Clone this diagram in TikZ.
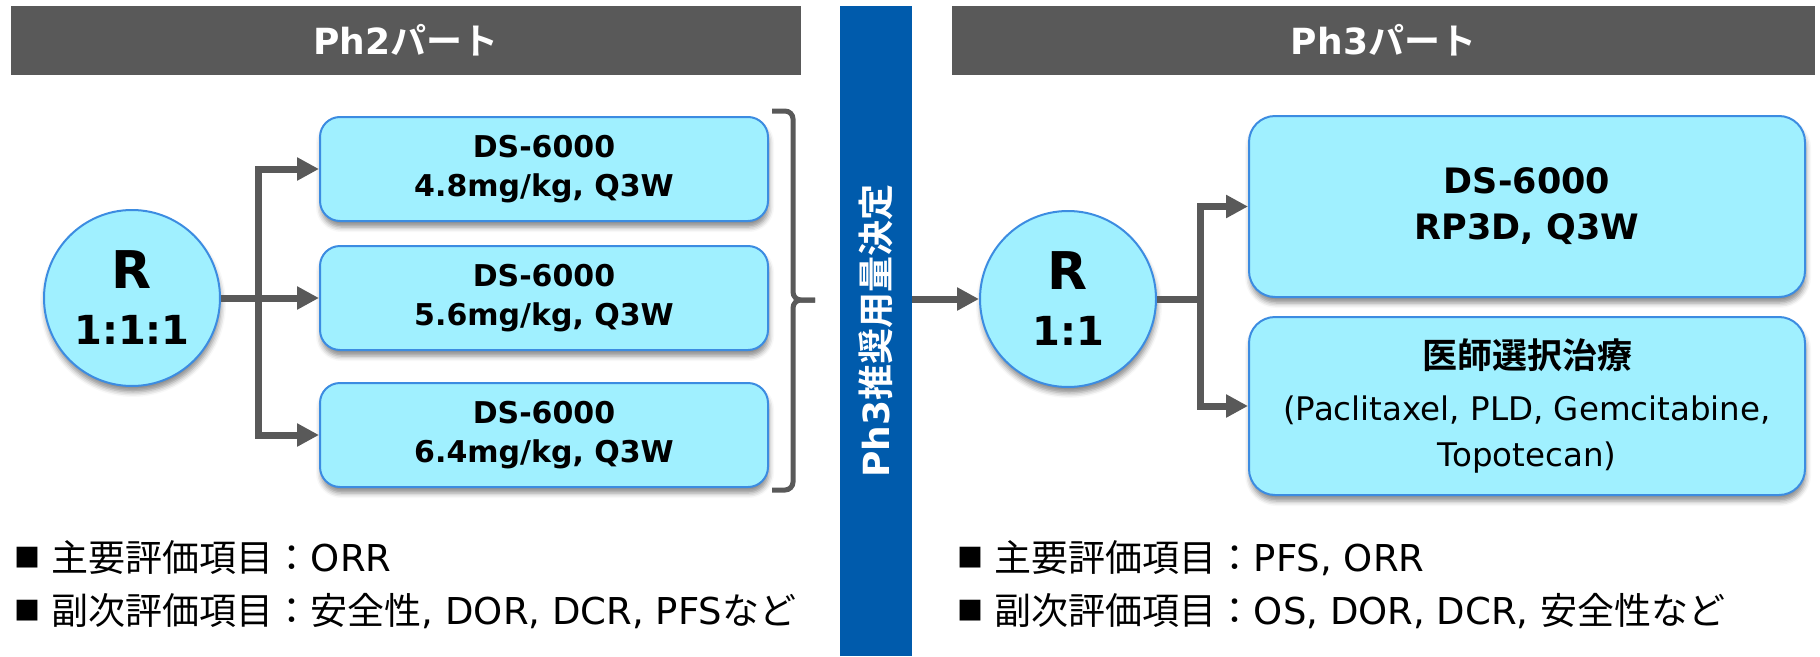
\documentclass[tikz,border=0pt]{standalone}
\usepackage{fontspec}
\setmainfont{DejaVu Sans}
\newfontfamily\jp{Noto Sans CJK JP}[BoldFont={Noto Sans CJK JP Bold}]
\usetikzlibrary{arrows.meta,shadows.blur}
\definecolor{headgray}{RGB}{89,89,89}
\definecolor{barblue}{RGB}{0,91,172}
\definecolor{boxfill}{RGB}{160,240,255}
\definecolor{boxline}{RGB}{60,140,225}
\definecolor{linkgray}{RGB}{89,89,89}
\newcommand{\sq}{\raisebox{4pt}{\fontsize{26}{30}\selectfont\jp ■}\ }

\begin{document}
\begin{tikzpicture}[x=1pt,y=-1pt,
    header/.style={fill=headgray, text=white, font=\bfseries\fontsize{36}{40}\selectfont, minimum height=69pt, inner sep=0pt},
    soft/.style={blur shadow={shadow xshift=1pt, shadow yshift=-6pt, shadow blur radius=5pt, shadow opacity=45}},
    arm/.style={draw=boxline, line width=2pt, fill=boxfill, rounded corners=20pt, align=center, inner sep=0pt, soft},
    rnd/.style={circle, draw=boxline, line width=2pt, fill=boxfill, minimum size=176pt, inner sep=0pt, align=center, font=\bfseries\fontsize{40}{56}\selectfont, soft},
    link/.style={draw=linkgray, line width=7pt},
    arrow/.style={link, -{Triangle[length=22pt,width=22pt]}},
    note/.style={anchor=west, inner sep=0pt, font=\fontsize{37}{40}\selectfont}]

  \useasboundingbox (0,0) rectangle (1820,656);

  % headers and the dose bar
  \node[header, minimum width=790pt] (ph2) at (406,40.5) {Ph2{\jp パート}};
  \node[header, minimum width=863pt] (ph3) at (1383.5,40.5) {Ph3{\jp パート}};
  \node[fill=barblue, text=white, rotate=90, minimum width=650pt, minimum height=72pt, inner sep=0pt, font=\bfseries\fontsize{36}{40}\selectfont] (dose) at (876,331) {Ph3{\jp 推奨用量決定}};

  % Ph2
  \node[rnd] (r1) at (132,298) {{\fontsize{52}{56}\selectfont R}\\1:1:1};
  \node[arm, minimum width=448pt, minimum height=104pt, font=\bfseries\fontsize{30}{39}\selectfont] (b1) at (544,169) {DS-6000\\4.8mg/kg, Q3W};
  \node[arm, minimum width=448pt, minimum height=104pt, font=\bfseries\fontsize{30}{39}\selectfont] (b2) at (544,298) {DS-6000\\5.6mg/kg, Q3W};
  \node[arm, minimum width=448pt, minimum height=104pt, font=\bfseries\fontsize{30}{39}\selectfont] (b3) at (544,435) {DS-6000\\6.4mg/kg, Q3W};
  \coordinate (f1) at (258,298);
  \draw[link] (r1.east) -- (f1);
  \draw[arrow] (f1) |- (b1.west);
  \draw[arrow] (f1) -- (b2.west);
  \draw[arrow] (f1) |- (b3.west);
  \draw[link, line width=5pt, rounded corners=8pt] (772,111) -- (793,111) -- (793,300) -- (815,300);
  \draw[link, line width=5pt, rounded corners=8pt] (772,490) -- (793,490) -- (793,300) -- (815,300);

  % Ph3
  \node[rnd] (r2) at (1068,299) {{\fontsize{52}{56}\selectfont R}\\1:1};
  \draw[arrow] (dose.south |- r2.west) -- (r2.west);
  \node[arm, minimum width=556pt, minimum height=181pt, rounded corners=26pt, font=\bfseries\fontsize{35}{46}\selectfont] (pA) at (1527,206.5) {DS-6000\\RP3D, Q3W};
  \node[arm, minimum width=556pt, minimum height=178pt, rounded corners=26pt, font=\fontsize{32.5}{46}\selectfont] (pB) at (1527,406) {{\bfseries\fontsize{35}{46}\selectfont\jp 医師選択治療}\\[6pt](Paclitaxel, PLD, Gemcitabine,\\Topotecan)};
  \coordinate (f2) at (1200,299);
  \draw[link] (r2.east) -- (f2);
  \draw[arrow] (f2) |- (pA.west);
  \draw[arrow] (f2) |- (pB.west);

  % endpoints
  \node[note] (n1) at (14,558) {\sq{\jp 主要評価項目：}ORR};
  \node[note] (n2) at (14,611) {\sq{\jp 副次評価項目：安全性}, DOR, DCR, PFS{\jp など}};
  \node[note] (n3) at (957,558) {\sq{\jp 主要評価項目：}PFS, ORR};
  \node[note] (n4) at (957,611) {\sq{\jp 副次評価項目：}OS, DOR, DCR, {\jp 安全性など}};
\end{tikzpicture}
\end{document}
